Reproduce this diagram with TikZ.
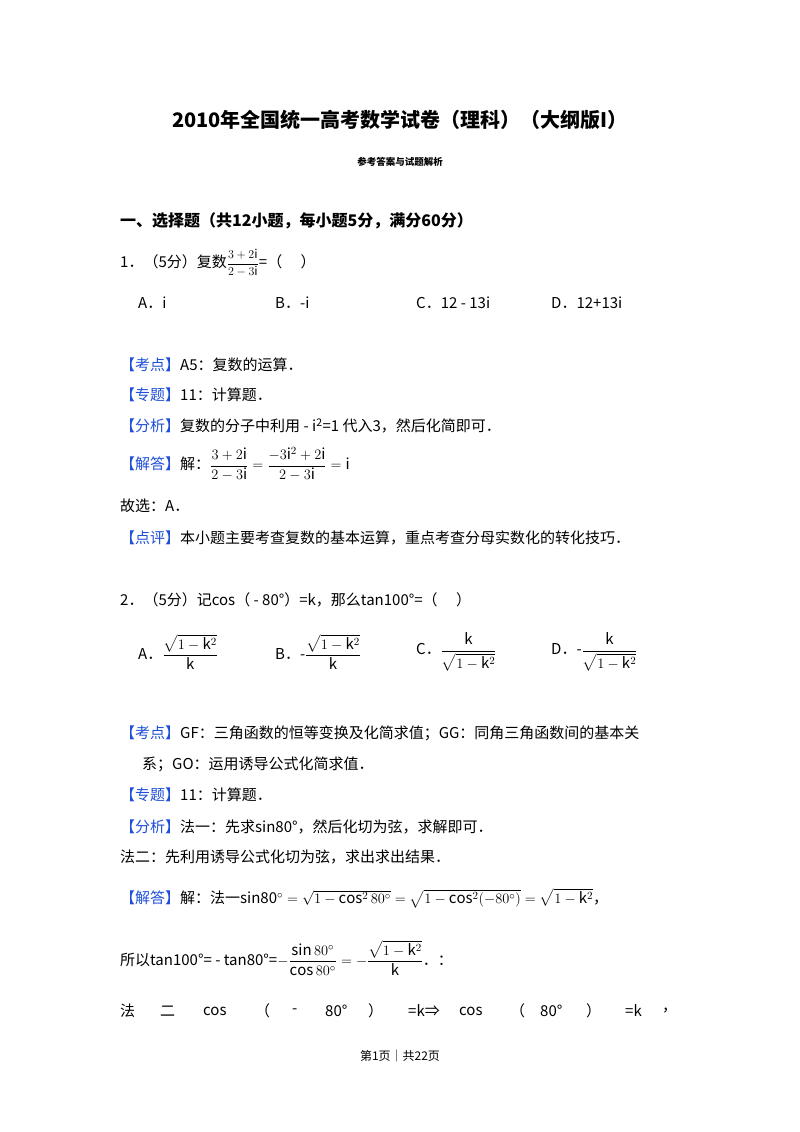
\documentclass[tikz,border=0pt]{standalone}
\usepackage{fontspec}
\usepackage{amsmath}
\setmainfont{Noto Sans CJK SC}
\definecolor{kblue}{HTML}{1F4FD8}
\newcommand{\kb}[1]{{\color{kblue}【#1】}}
\begin{document}
\begin{tikzpicture}[x=1pt,y=-1pt,
  t/.style={anchor=west,inner sep=0pt,font=\fontsize{15}{18}\selectfont},
  c/.style={anchor=center,inner sep=0pt,font=\fontsize{15}{18}\selectfont}]
\useasboundingbox[fill=white] (0,0) rectangle (800,1132);
\node[c,font=\fontsize{20}{24}\bfseries] (title) at (400,120) {2010年全国统一高考数学试卷（理科）（大纲版I）};
\node[c,font=\fontsize{9.5}{11}\bfseries] (sub) at (400,162) {参考答案与试题解析};
\node[t,font=\fontsize{16}{18}\bfseries] (sec) at (120,221) {一、选择题（共12小题，每小题5分，满分60分）};
\node[t] (q1) at (120,263) {1．（5分）复数{\fontsize{12}{14}\selectfont$\dfrac{3+2\mathrm{i}}{2-3\mathrm{i}}$}=（\quad\ ）};
\node[t] (o1a) at (138,303) {A．i};
\node[t] (o1b) at (275,303) {B．-i};
\node[t] (o1c) at (416,303) {C．12 - 13i};
\node[t] (o1d) at (551,303) {D．12+13i};
\node[t] (k1) at (120,365) {\kb{考点}A5：复数的运算．};
\node[t] (z1) at (120,395) {\kb{专题}11：计算题．};
\node[t] (f1) at (120,426) {\kb{分析}复数的分子中利用 - i\textsuperscript{2}=1 代入3，然后化简即可．};
\node[t] (j1) at (120,464) {\kb{解答}解：$\dfrac{3+2\mathrm{i}}{2-3\mathrm{i}}=\dfrac{-3\mathrm{i}^{2}+2\mathrm{i}}{2-3\mathrm{i}}=\mathrm{i}$};
\node[t] (g1) at (120,506) {故选：A．};
\node[t] (d1) at (120,538) {\kb{点评}本小题主要考查复数的基本运算，重点考查分母实数化的转化技巧．};
\node[t] (q2) at (120,600) {2．（5分）记cos（ - 80°）=k，那么tan100°=（\quad\ ）};
\node[t] (o2a) at (138,652) {A．$\dfrac{\sqrt{1-\mathrm{k}^2}}{\mathrm{k}}$};
\node[t] (o2b) at (275,652) {B．-$\dfrac{\sqrt{1-\mathrm{k}^2}}{\mathrm{k}}$};
\node[t] (o2c) at (416,652) {C．$\dfrac{\mathrm{k}}{\sqrt{1-\mathrm{k}^2}}$};
\node[t] (o2d) at (551,652) {D．-$\dfrac{\mathrm{k}}{\sqrt{1-\mathrm{k}^2}}$};
\node[t] (k2) at (120,733) {\kb{考点}GF：三角函数的恒等变换及化简求值；GG：同角三角函数间的基本关};
\node[t] (k2b) at (142,764) {系；GO：运用诱导公式化简求值．};
\node[t] (z2) at (120,795) {\kb{专题}11：计算题．};
\node[t] (f2) at (120,827) {\kb{分析}法一：先求sin80°，然后化切为弦，求解即可．};
\node[t] (f2b) at (120,857) {法二：先利用诱导公式化切为弦，求出求出结果．};
\node[t] (j2) at (120,898) {\kb{解答}解：法一$\mathrm{sin80^\circ}=\sqrt{1-\cos^2 80^\circ}=\sqrt{1-\cos^2(-80^\circ)}=\sqrt{1-\mathrm{k}^2}$，};
\node[t] (s2) at (120,958) {所以tan100°= - tan80°=$-\dfrac{\sin 80^\circ}{\cos 80^\circ}=-\dfrac{\sqrt{1-\mathrm{k}^2}}{\mathrm{k}}$．：};
\node[t] (l1) at (120,1011) {法};
\node[t] (l2) at (160,1011) {二};
\node[t] (l3) at (203,1011) {cos};
\node[t] (l4) at (255,1011) {（};
\node[t] (l5) at (292,1011) {-};
\node[t] (l6) at (325,1011) {80°};
\node[t] (l7) at (368,1011) {）};
\node[t] (l8) at (408,1011) {=k⇒};
\node[t] (l9) at (459,1011) {cos};
\node[t] (l10) at (510,1011) {（};
\node[t] (l11) at (540,1011) {80°};
\node[t] (l12) at (586,1011) {）};
\node[t] (l13) at (625,1011) {=k};
\node[t] (l14) at (662,1011) {，};
\node[c,font=\fontsize{12}{14}\selectfont] (foot) at (400,1056) {第1页｜共22页};
\end{tikzpicture}
\end{document}
